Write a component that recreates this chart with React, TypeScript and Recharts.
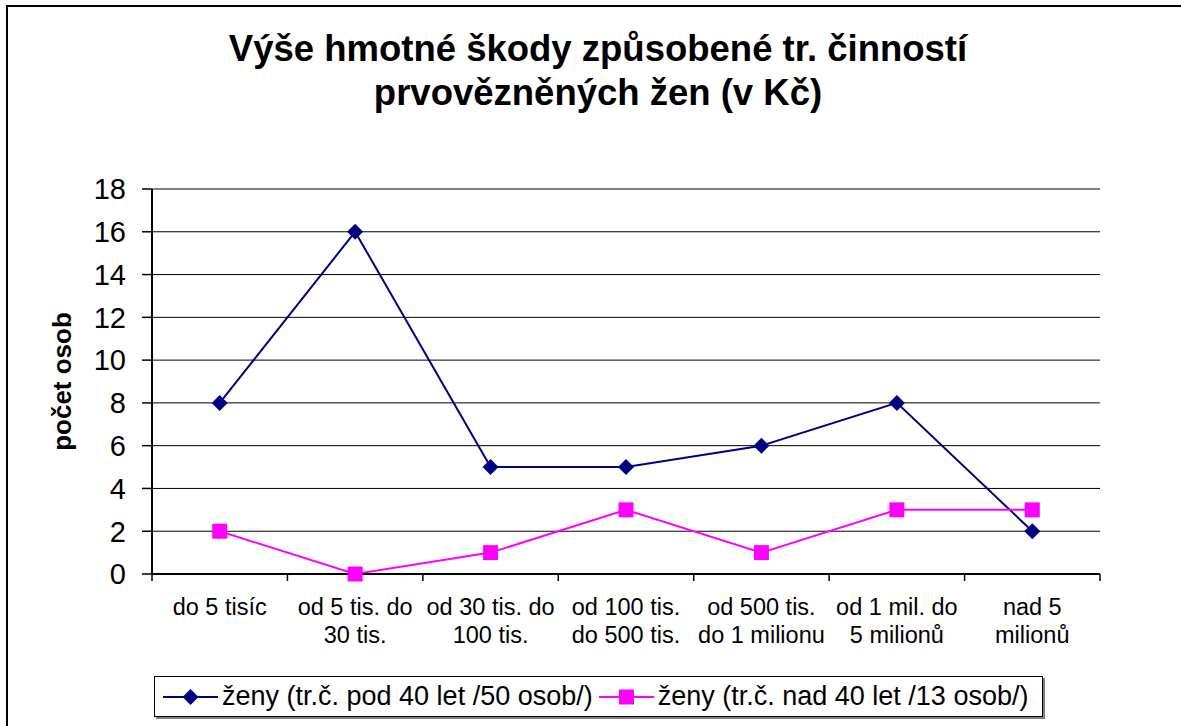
import React from "react";
import {
  LineChart,
  Line,
  XAxis,
  YAxis,
  CartesianGrid,
  ReferenceLine,
  Legend,
} from "recharts";

const categories: string[] = [
  "do 5 tisíc",
  "od 5 tis. do\n30 tis.",
  "od 30 tis. do\n100 tis.",
  "od 100 tis.\ndo 500 tis.",
  "od 500 tis.\ndo 1 milionu",
  "od 1 mil. do\n5 milionů",
  "nad 5\nmilionů",
];
const seriesUnder40: number[] = [8, 16, 5, 5, 6, 8, 2];
const seriesOver40: number[] = [2, 0, 1, 3, 1, 3, 3];
const yTicks: number[] = [0, 2, 4, 6, 8, 10, 12, 14, 16, 18];

const nameUnder40 = "ženy (tr.č. pod 40 let /50 osob/)";
const nameOver40 = "ženy (tr.č. nad 40 let /13 osob/)";
const titleLines = ["Výše hmotné škody způsobené tr. činností", "prvovězněných žen (v Kč)"];
const yLabel = "počet osob";

const data = categories.map((c, i) => ({
  cat: c,
  a: seriesUnder40[i],
  b: seriesOver40[i],
}));

const W = 1181;
const H = 726;
const M_TOP = 189;
const M_RIGHT = 81;
const Y_AXIS_W = 152;
const X_AXIS_H = 100;
const M_BOTTOM = 52;
const PLOT_W = W - Y_AXIS_W - M_RIGHT;
const BAND = PLOT_W / categories.length;

const FONT = '"Liberation Sans", Arial, sans-serif';
const NAVY = "#000080";
const MAGENTA = "#FF00FF";

const Diamond = (props: any) => {
  const { cx, cy, fill } = props;
  if (cx == null || cy == null) return null;
  const r = 8;
  return (
    <polygon
      points={`${cx},${cy - r} ${cx + r},${cy} ${cx},${cy + r} ${cx - r},${cy}`}
      fill={fill}
    />
  );
};

const Square = (props: any) => {
  const { cx, cy, fill } = props;
  if (cx == null || cy == null) return null;
  const s = 15;
  return <rect x={cx - s / 2} y={cy - s / 2} width={s} height={s} fill={fill} />;
};

const XTick = (props: any) => {
  const { x, y, payload, index } = props;
  const lines = String(payload.value).split("\n");
  const last = index === categories.length - 1;
  return (
    <g>
      <line x1={x - BAND / 2} x2={x - BAND / 2} y1={y} y2={y + 7} stroke="#000" strokeWidth={1.5} />
      {last && (
        <line x1={x + BAND / 2} x2={x + BAND / 2} y1={y} y2={y + 7} stroke="#000" strokeWidth={1.5} />
      )}
      <text x={x} y={y + 41} textAnchor="middle" fontSize={23.5} fontFamily={FONT} fill="#000">
        {lines.map((l, i) => (
          <tspan key={i} x={x} dy={i === 0 ? 0 : 28}>
            {l}
          </tspan>
        ))}
      </text>
    </g>
  );
};

const YLabel = (props: any) => {
  const vb = props.viewBox || { x: 0, y: 0, width: 0, height: 0 };
  const cx = vb.x + 71;
  const cy = vb.y + vb.height / 2;
  return (
    <text
      x={cx}
      y={cy}
      transform={`rotate(-90, ${cx}, ${cy})`}
      textAnchor="middle"
      fontSize={26}
      fontWeight="bold"
      fontFamily={FONT}
      fill="#000"
    >
      {yLabel}
    </text>
  );
};

const legendItems = [
  { key: "a", name: nameUnder40, color: NAVY, shape: "diamond" },
  { key: "b", name: nameOver40, color: MAGENTA, shape: "square" },
];

const LegendContent = () => {
  return (
    <div
      style={{
        width: 889,
        height: 41,
        boxSizing: "border-box",
        border: "1px solid #000",
        boxShadow: "2px 2px 0 #808080",
        background: "#fff",
        display: "flex",
        alignItems: "center",
        paddingLeft: 8,
        fontFamily: FONT,
        fontSize: 27,
        color: "#000",
        whiteSpace: "nowrap",
      }}
    >
      {legendItems.map((p, i) => (
        <div key={i} style={{ display: "flex", alignItems: "center", marginRight: 6 }}>
          <svg width={55} height={20} style={{ marginRight: 4 }}>
            <line x1={0} x2={55} y1={10} y2={10} stroke={p.color} strokeWidth={2} />
            {p.shape === "diamond" ? (
              <polygon points="27.5,2 35.5,10 27.5,18 19.5,10" fill={p.color} />
            ) : (
              <rect x={20} y={2.5} width={15} height={15} fill={p.color} />
            )}
          </svg>
          <span>{p.name}</span>
        </div>
      ))}
    </div>
  );
};

export default function App() {
  return (
    <div
      style={{
        position: "absolute",
        left: 0,
        top: 0,
        width: W,
        height: H,
        overflow: "hidden",
        background: "#fff",
      }}
    >
      <div
        style={{
          position: "absolute",
          left: 6,
          top: 5,
          width: W + 50,
          height: H + 50,
          border: "2px solid #000",
        }}
      />
      <div
        style={{
          position: "absolute",
          left: 0,
          top: 27,
          width: 1196,
          textAlign: "center",
          fontFamily: FONT,
          fontWeight: "bold",
          fontSize: 36.5,
          lineHeight: "44px",
          color: "#000",
        }}
      >
        {titleLines.map((t, i) => (
          <div key={i}>{t}</div>
        ))}
      </div>
      <div style={{ position: "absolute", left: 0, top: 0 }}>
        <LineChart
          width={W}
          height={H}
          data={data}
          margin={{ top: M_TOP, right: M_RIGHT, bottom: M_BOTTOM, left: 0 }}
        >
          <CartesianGrid vertical={false} stroke="#000" strokeWidth={1} />
          <ReferenceLine y={18} stroke="#808080" strokeWidth={2} />
          <XAxis
            dataKey="cat"
            scale="band"
            interval={0}
            height={X_AXIS_H}
            tickLine={false}
            tickSize={0}
            tickMargin={0}
            axisLine={{ stroke: "#000", strokeWidth: 2 }}
            tick={<XTick />}
          />
          <YAxis
            domain={[0, 18]}
            ticks={yTicks}
            interval={0}
            width={Y_AXIS_W}
            tickSize={10}
            tickMargin={16}
            axisLine={{ stroke: "#000", strokeWidth: 2 }}
            tickLine={{ stroke: "#000", strokeWidth: 1.5 }}
            tick={{ fontSize: 29, fill: "#000", fontFamily: FONT }}
            label={<YLabel />}
          />
          <YAxis
            yAxisId="right"
            orientation="right"
            width={0}
            domain={[0, 18]}
            tick={false}
            tickLine={false}
            axisLine={{ stroke: "#808080", strokeWidth: 2 }}
          />
          <Legend
            layout="horizontal"
            verticalAlign="middle"
            align="center"
            wrapperStyle={{ left: 154, top: 676, width: 889, height: 41 }}
            content={<LegendContent />}
          />
          <Line
            type="linear"
            dataKey="a"
            name={nameUnder40}
            stroke={NAVY}
            strokeWidth={2}
            fill={NAVY}
            dot={<Diamond fill={NAVY} />}
            activeDot={false}
            isAnimationActive={false}
          />
          <Line
            type="linear"
            dataKey="b"
            name={nameOver40}
            stroke={MAGENTA}
            strokeWidth={2}
            fill={MAGENTA}
            dot={<Square fill={MAGENTA} />}
            activeDot={false}
            isAnimationActive={false}
          />
        </LineChart>
      </div>
    </div>
  );
}
